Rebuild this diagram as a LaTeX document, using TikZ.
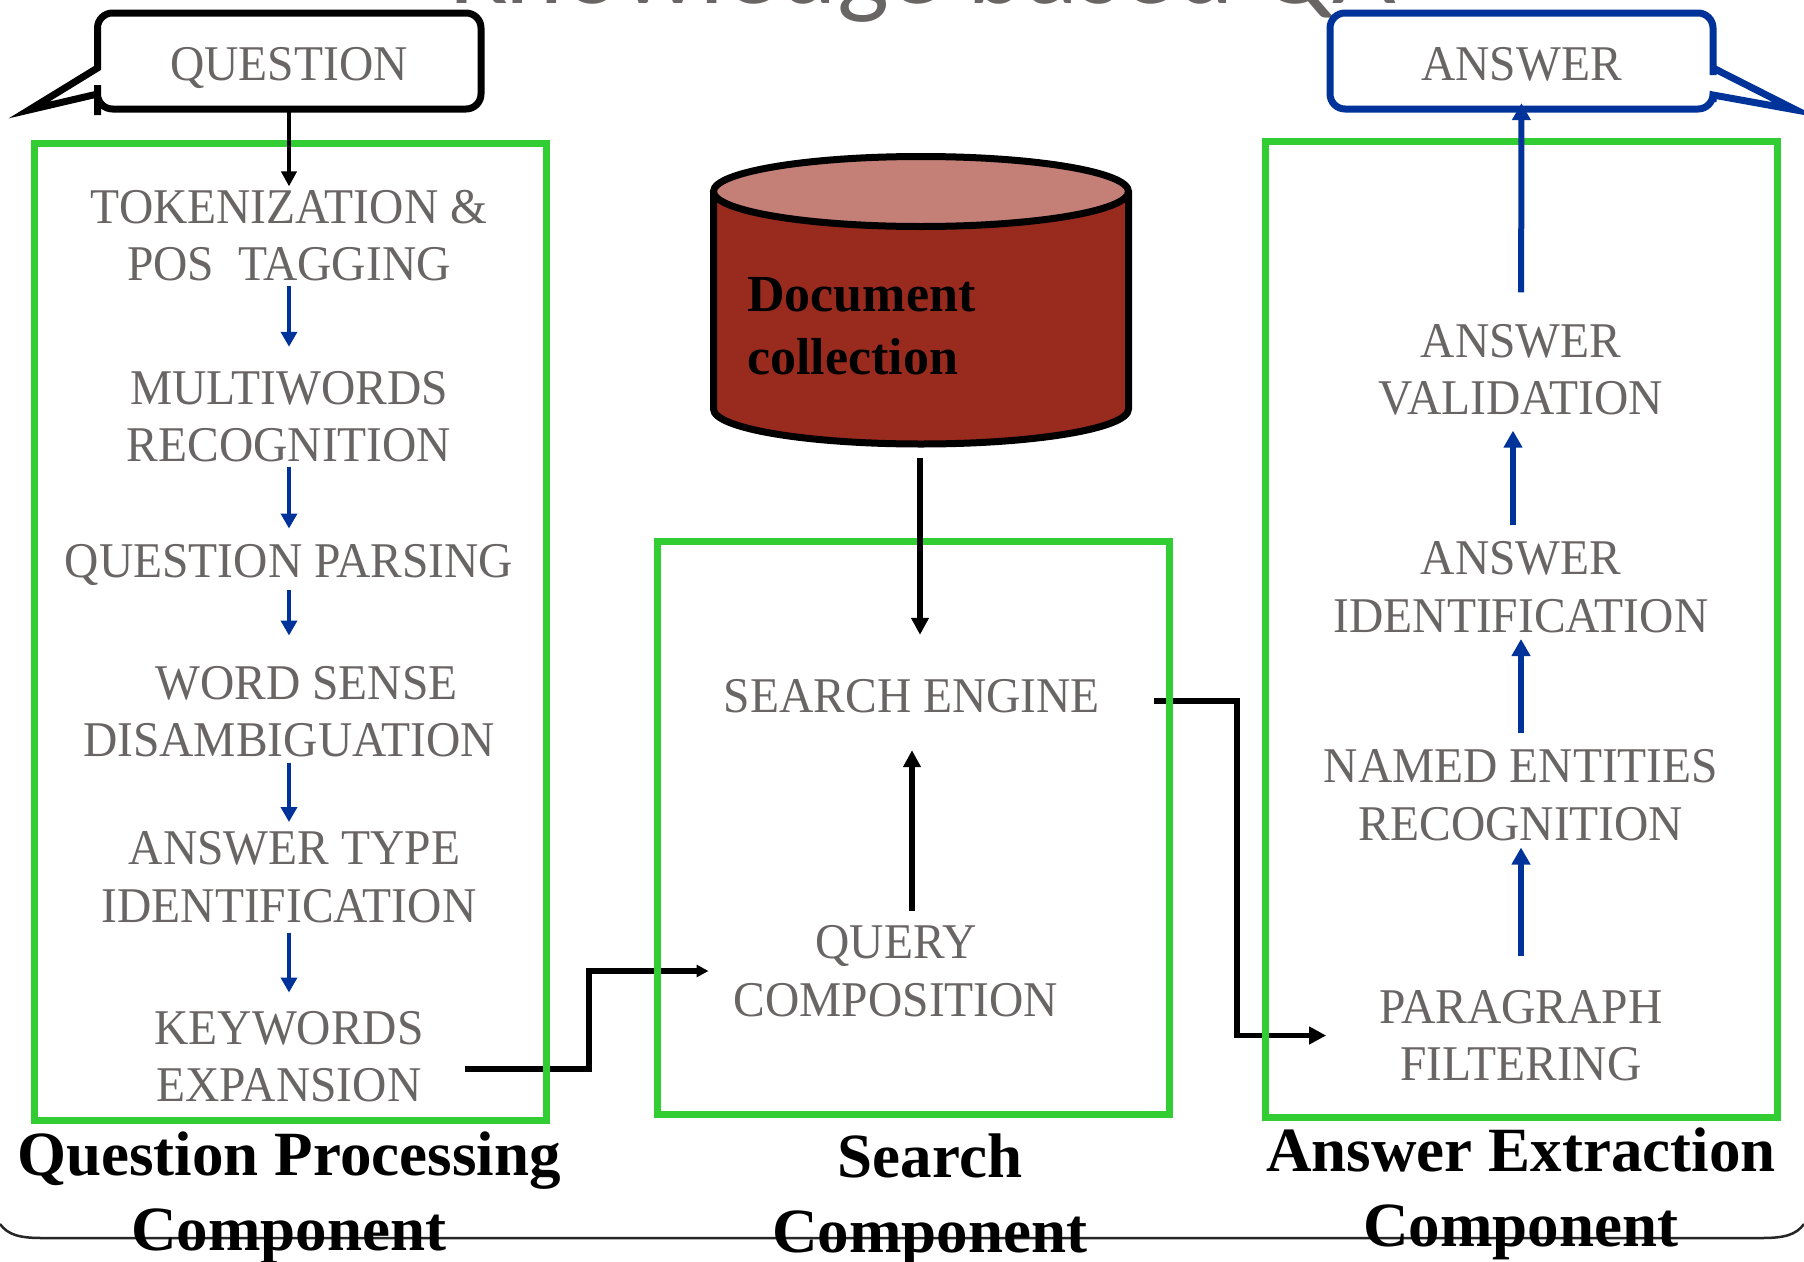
\documentclass[tikz,border=0pt]{standalone}
\usepackage{fontspec}
\setmainfont{Liberation Serif}
\newfontfamily\grayfont[FakeStretch=0.95]{Liberation Serif}
\newfontfamily\titlefont{Carlito}
\usetikzlibrary{arrows.meta,calc}
\definecolor{txtgray}{RGB}{105,101,100}
\definecolor{boxgreen}{RGB}{50,205,50}
\definecolor{flowblue}{RGB}{0,51,153}
\definecolor{dbbody}{RGB}{153,43,30}
\definecolor{dbtop}{RGB}{196,128,119}
\begin{document}
\begin{tikzpicture}[x=1pt,y=1pt,
  stagetext/.style={inner sep=0pt, align=center, text=txtgray, font=\grayfont\fontsize{50}{57.5}\selectfont},
  complabel/.style={inner sep=0pt, align=center, font=\bfseries\fontsize{63}{75}\selectfont},
  greenframe/.style={draw=boxgreen, line width=7pt},
  bluearr/.style={draw=flowblue, line width=3.6pt, -{Triangle[length=15pt,width=16pt]}},
  bigbluearr/.style={draw=flowblue, line width=6pt, -{Triangle[length=17pt,width=18pt]}},
  blackarr/.style={draw=black, line width=6pt, -{Triangle[length=17pt,width=17pt]}},
  thinarr/.style={draw=black, line width=4.5pt, -{Triangle[length=15pt,width=15pt]}},
  conn/.style={draw=black, line width=5.5pt, -{Triangle[length=14pt,width=14pt]}},
  calloutline/.style={line width=7pt, fill=white, line join=miter},
  boxtext/.style={inner sep=0pt, text=txtgray, font=\grayfont\fontsize{50}{57.5}\selectfont,
    minimum width=383pt, minimum height=96pt, text depth=0pt},
]
\useasboundingbox (0,-1261) rectangle (1804,0);
\fill[white] (0,-1261) rectangle (1804,0);

% partially visible title
\node[anchor=base west, inner sep=0pt, text=txtgray, font=\titlefont\fontsize{110}{120}\selectfont] (title) at (450,-3) {Knowledge based QA};

% bottom frame line
\draw[line width=2.5pt, black!85] (0,-1224) .. controls (8,-1235) and (20,-1238) .. (42,-1238) -- (1762,-1238) .. controls (1784,-1238) and (1796,-1235) .. (1804,-1224);

% callouts
\draw[calloutline, draw=black] (97.5,-68) -- (97.5,-60) [rounded corners=15pt] -- (97.5,-13) -- (481,-13) -- (481,-109) -- (97.5,-109) -- (97.5,-100) [sharp corners] -- (97.5,-94) -- (29,-110) -- cycle;
\node[boxtext] (qbox) at (289,-63.5) {QUESTION};

\draw[calloutline, draw=flowblue] (1713,-95) -- (1713,-102) [rounded corners=15pt] -- (1713,-109) -- (1330,-109) -- (1330,-13) -- (1713,-13) -- (1713,-60) [sharp corners] -- (1713,-68) -- (1796,-110) -- cycle;
\node[boxtext] (abox) at (1521.5,-63.5) {ANSWER};

% cylinder
\path[fill=dbbody] (713.5,-191.5) -- (713.5,-409) arc[start angle=180, end angle=360, x radius=207.5, y radius=35] -- (1128.5,-191.5);
\draw[line width=7pt] (713.5,-191.5) -- (713.5,-409) arc[start angle=180, end angle=360, x radius=207.5, y radius=35] -- (1128.5,-191.5);
\draw[line width=7pt, fill=dbtop] (921,-191.5) ellipse[x radius=207.5, y radius=35];
\node[anchor=north west, inner sep=0pt, align=left, font=\bfseries\fontsize{52}{63}\selectfont] (doc) at (747,-277) {Document\\collection};
\coordinate (dbbot) at (920,-447);

% stage texts, left column
\node[stagetext] (tok) at (289,-235.5) {TOKENIZATION \&\\POS\ \ TAGGING};
\node[stagetext] (mw) at (289,-416.5) {MULTIWORDS\\RECOGNITION};
\node[stagetext, anchor=base, text depth=0pt] (qp) at (289,-577.5) {QUESTION PARSING};
\node[stagetext] (wsd) at (289,-711.5) {\hspace*{35pt}WORD SENSE\\DISAMBIGUATION};
\node[stagetext] (atype) at (289,-877) {\hspace*{11pt}ANSWER TYPE\\IDENTIFICATION};
\node[stagetext] (kw) at (289,-1056.5) {KEYWORDS\\EXPANSION};

% middle column
\node[stagetext, anchor=base, text depth=0pt] (se) at (912,-712.5) {SEARCH ENGINE};
\node[stagetext] (qc) at (896,-971) {QUERY\\COMPOSITION};

% right column
\node[stagetext] (valid) at (1521,-370) {ANSWER\\VALIDATION};
\node[stagetext] (ident) at (1521,-587) {ANSWER\\IDENTIFICATION};
\node[stagetext] (ner) at (1521,-795) {NAMED ENTITIES\\RECOGNITION};
\node[stagetext] (para) at (1521,-1035.5) {PARAGRAPH\\FILTERING};

% horizontal connectors (under the frames)
\draw[conn, -{Triangle[length=12pt,width=12pt]}] ([xshift=41.5pt,yshift=-12.5pt]kw.east) -- ++(123.5,0) |- ([xshift=-25pt]qc.west);
\draw[conn, -{Triangle[length=17pt,width=17pt]}] ([xshift=54pt,yshift=-5pt]se.east) -- ++(83,0) |- ([xshift=-53pt]para.west);

% green frames
\draw[greenframe] (34.5,-143.5) rectangle (546,-1120);
\draw[greenframe] (657,-541) rectangle (1169,-1114);
\draw[greenframe] (1265.5,-141) rectangle (1777,-1117);

% vertical arrows
\draw[thinarr, shorten >=3.25pt] (qbox) -- (tok);
\draw[bluearr, shorten <=4.25pt, shorten >=24pt] (tok) -- (mw);
\draw[bluearr, shorten <=4.25pt, shorten >=15.7pt] (mw) -- (qp);
\draw[bluearr, shorten <=12.5pt, shorten >=30.25pt] (qp) -- (wsd);
\draw[bluearr, shorten <=5.25pt, shorten >=9.25pt] (wsd) -- (atype);
\draw[bluearr, shorten <=9.75pt, shorten >=18.25pt] (atype) -- (kw);

\draw[blackarr, shorten <=11pt, shorten >=44.4pt] (dbbot) -- (dbbot |- se.north);
\draw[blackarr, shorten <=14.75pt, shorten >=37.5pt] (qc.north -| se.south) -- (se.south);

\draw[bigbluearr, shorten <=31.75pt, shorten >=-8.5pt] (valid) -- (abox);
\draw[bigbluearr, shorten <=16.75pt, shorten >=14.75pt] ([xshift=-8pt]ident.north) -- ([xshift=-8pt]valid.south);
\draw[bigbluearr, shorten <=16.75pt, shorten >=6.25pt] (ner) -- (ident);
\draw[bigbluearr, shorten <=34.25pt, shorten >=6.75pt] (para) -- (ner);

% component labels
\node[complabel] (qpl) at (289,-1197.5) {Question Processing\\Component};
\node[complabel] (scl) at (930,-1199.5) {Search\\Component};
\node[complabel] (ael) at (1521,-1193.5) {Answer Extraction\\Component};
\end{tikzpicture}
\end{document}
